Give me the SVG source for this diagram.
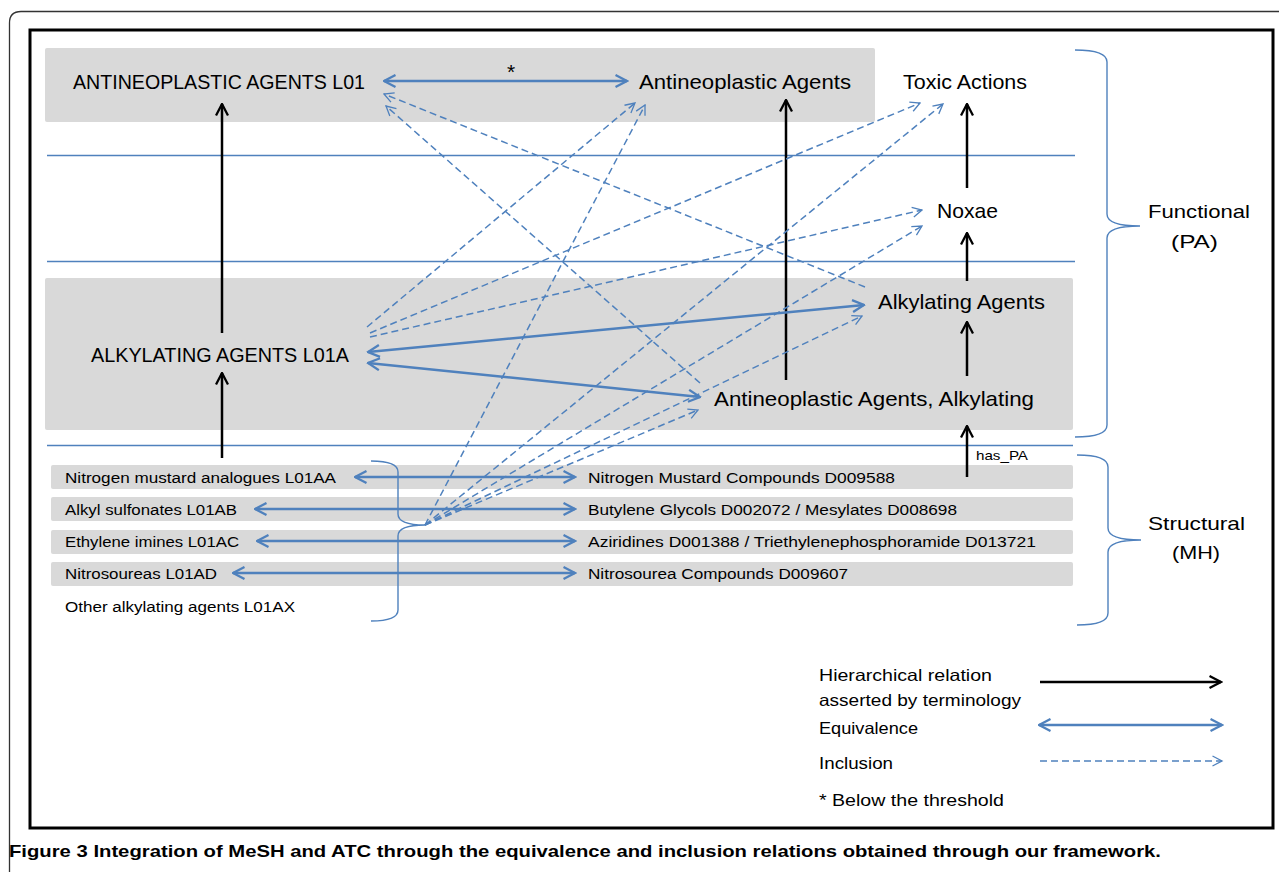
<svg xmlns="http://www.w3.org/2000/svg" width="1279" height="872" viewBox="0 0 1279 872">
<style>
.t{font-family:"Liberation Sans",Arial,sans-serif;fill:#000}
.big{font-size:21px}
.row{font-size:15.5px}
.leg{font-size:16.5px}
.side{font-size:19px}
.band{fill:#d9d9d9}
.sep{stroke:#4f81bd;stroke-width:1.5;fill:none}
.brace{stroke:#4f81bd;stroke-width:1.4;fill:none}
.hier{stroke:#000;stroke-width:2.5;fill:none;marker-end:url(#mkB)}
.eq{stroke:#4f81bd;stroke-width:2.5;fill:none;marker-start:url(#mkE);marker-end:url(#mkE)}
.inc{stroke:#4f81bd;stroke-width:1.5;fill:none;stroke-dasharray:7 4;marker-end:url(#mkI)}
</style>
<defs>
<marker id="mkB" viewBox="0 0 14 14" refX="12.5" refY="7" markerWidth="14" markerHeight="14" markerUnits="userSpaceOnUse" orient="auto"><path d="M1,1 L12.5,7 L1,13" fill="none" stroke="#000" stroke-width="2.3"/></marker>
<marker id="mkE" viewBox="0 0 14 14" refX="12.5" refY="7" markerWidth="14" markerHeight="14" markerUnits="userSpaceOnUse" orient="auto-start-reverse"><path d="M1,1 L12.5,7 L1,13" fill="none" stroke="#4f81bd" stroke-width="2.3"/></marker>
<marker id="mkI" viewBox="0 0 12 12" refX="10.5" refY="6" markerWidth="12" markerHeight="12" markerUnits="userSpaceOnUse" orient="auto"><path d="M1,1 L10.5,6 L1,11" fill="none" stroke="#4f81bd" stroke-width="1.3"/></marker>
</defs>
<rect width="1279" height="872" fill="#fff"/>
<g id="frames">
<path d="M9.5,872 L9.5,23 Q9.5,11.5 21,11.5 L1279,11.5" fill="none" stroke="#333" stroke-width="1.3"/>
<rect x="30" y="30" width="1243" height="798" fill="none" stroke="#000" stroke-width="3"/>
</g>
<g id="bands">
<rect class="band" x="45" y="48" width="830" height="74" rx="2"/>
<rect class="band" x="45" y="278" width="1028" height="152" rx="2"/>
<rect class="band" x="51" y="465" width="1022" height="24" rx="2"/>
<rect class="band" x="51" y="497" width="1022" height="24" rx="2"/>
<rect class="band" x="51" y="530" width="1022" height="24" rx="2"/>
<rect class="band" x="51" y="562" width="1022" height="24" rx="2"/>
<line class="sep" x1="47" y1="155.5" x2="1075" y2="155.5"/>
<line class="sep" x1="47" y1="261.5" x2="1075" y2="261.5"/>
<line class="sep" x1="47" y1="445.5" x2="1073" y2="445.5" stroke-width="1.8"/>
</g>
<g id="braces">
<path class="brace" d="M1075,50 Q1107,50 1107,62 L1107,214 Q1107,226 1140,226 Q1107,226 1107,238 L1107,425 Q1107,437 1075,437"/>
<path class="brace" d="M1077,455 Q1108,455 1108,467 L1108,528 Q1108,540 1141,540 Q1108,540 1108,552 L1108,613 Q1108,625 1077,625"/>
<path class="brace" d="M371,461 Q398,461 398,472 L398,514 Q398,525 425,525 Q398,525 398,536 L398,610 Q398,621 371,621"/>
</g>
<g id="connectors">
<line class="hier" x1="222" y1="333" x2="222" y2="104"/>
<line class="hier" x1="222" y1="458" x2="222" y2="373"/>
<line class="hier" x1="786" y1="380" x2="786" y2="100"/>
<line class="hier" x1="967" y1="188" x2="967" y2="104"/>
<line class="hier" x1="967" y1="281" x2="967" y2="233"/>
<line class="hier" x1="967" y1="376" x2="967" y2="322"/>
<line class="hier" x1="967" y1="477" x2="967" y2="426"/>
<line class="eq" x1="384" y1="81" x2="627" y2="81"/>
<line class="eq" x1="368" y1="352" x2="864" y2="305"/>
<line class="eq" x1="368" y1="363" x2="700" y2="397"/>
<line class="eq" x1="355" y1="477" x2="575" y2="477"/>
<line class="eq" x1="255" y1="509" x2="575" y2="509"/>
<line class="eq" x1="257" y1="541" x2="575" y2="541"/>
<line class="eq" x1="233" y1="573" x2="575" y2="573"/>
<line class="inc" x1="865" y1="287" x2="384" y2="94"/>
<line class="inc" x1="700" y1="383" x2="386" y2="106"/>
<line class="inc" x1="367" y1="327" x2="635" y2="103"/>
<line class="inc" x1="370" y1="333" x2="920" y2="103"/>
<line class="inc" x1="370" y1="337" x2="922" y2="210"/>
<line class="inc" x1="425" y1="525" x2="645" y2="105"/>
<line class="inc" x1="425" y1="525" x2="943" y2="104"/>
<line class="inc" x1="425" y1="525" x2="922" y2="226"/>
<line class="inc" x1="425" y1="525" x2="862" y2="316"/>
<line class="inc" x1="425" y1="525" x2="698" y2="410"/>
</g>
<g id="n-l01"><text class="t big" x="73" y="89" textLength="292" lengthAdjust="spacingAndGlyphs">ANTINEOPLASTIC AGENTS L01</text></g>
<g id="star"><text class="t" x="511" y="79" font-size="21" text-anchor="middle">*</text></g>
<g id="n-antineo"><text class="t big" x="639" y="89" textLength="212" lengthAdjust="spacingAndGlyphs">Antineoplastic Agents</text></g>
<g id="n-toxic"><text class="t big" x="903" y="89" textLength="124" lengthAdjust="spacingAndGlyphs">Toxic Actions</text></g>
<g id="n-noxae"><text class="t big" x="937" y="218" textLength="61" lengthAdjust="spacingAndGlyphs">Noxae</text></g>
<g id="n-alkyl"><text class="t big" x="878" y="309" textLength="167" lengthAdjust="spacingAndGlyphs">Alkylating Agents</text></g>
<g id="n-l01a"><text class="t big" x="91" y="362" textLength="258" lengthAdjust="spacingAndGlyphs">ALKYLATING AGENTS L01A</text></g>
<g id="n-antialk"><text class="t big" x="714" y="406" textLength="320" lengthAdjust="spacingAndGlyphs">Antineoplastic Agents, Alkylating</text></g>
<g id="haspa"><text class="t" x="976" y="460" font-size="13" textLength="52" lengthAdjust="spacingAndGlyphs">has_PA</text></g>
<g id="functional"><text class="t side" x="1148" y="218" textLength="102" lengthAdjust="spacingAndGlyphs">Functional</text><text class="t side" x="1171" y="248" textLength="47" lengthAdjust="spacingAndGlyphs">(PA)</text></g>
<g id="structural"><text class="t side" x="1148" y="530" textLength="97" lengthAdjust="spacingAndGlyphs">Structural</text><text class="t side" x="1172" y="559" textLength="48" lengthAdjust="spacingAndGlyphs">(MH)</text></g>
<g id="r-l01aa"><text class="t row" x="65" y="482.5" textLength="271" lengthAdjust="spacingAndGlyphs">Nitrogen mustard analogues L01AA</text></g>
<g id="r-l01ab"><text class="t row" x="65" y="514.5" textLength="172" lengthAdjust="spacingAndGlyphs">Alkyl sulfonates L01AB</text></g>
<g id="r-l01ac"><text class="t row" x="65" y="547" textLength="174" lengthAdjust="spacingAndGlyphs">Ethylene imines L01AC</text></g>
<g id="r-l01ad"><text class="t row" x="65" y="579" textLength="152" lengthAdjust="spacingAndGlyphs">Nitrosoureas L01AD</text></g>
<g id="r-l01ax"><text class="t row" x="65" y="611.5" textLength="230" lengthAdjust="spacingAndGlyphs">Other alkylating agents L01AX</text></g>
<g id="m-d009588"><text class="t row" x="588" y="482.5" textLength="307" lengthAdjust="spacingAndGlyphs">Nitrogen Mustard Compounds D009588</text></g>
<g id="m-d002072"><text class="t row" x="588" y="514.5" textLength="369" lengthAdjust="spacingAndGlyphs">Butylene Glycols D002072 / Mesylates D008698</text></g>
<g id="m-d001388"><text class="t row" x="588" y="547" textLength="448" lengthAdjust="spacingAndGlyphs">Aziridines D001388 / Triethylenephosphoramide D013721</text></g>
<g id="m-d009607"><text class="t row" x="588" y="579" textLength="260" lengthAdjust="spacingAndGlyphs">Nitrosourea Compounds D009607</text></g>
<g id="legend">
<text class="t leg" x="819" y="681" textLength="173" lengthAdjust="spacingAndGlyphs">Hierarchical  relation</text>
<text class="t leg" x="819" y="706" textLength="202" lengthAdjust="spacingAndGlyphs">asserted by terminology</text>
<text class="t leg" x="819" y="734" textLength="99" lengthAdjust="spacingAndGlyphs">Equivalence</text>
<text class="t leg" x="819" y="769" textLength="74" lengthAdjust="spacingAndGlyphs">Inclusion</text>
<text class="t leg" x="819" y="806" textLength="185" lengthAdjust="spacingAndGlyphs">* Below the threshold</text>
<line class="hier" x1="1040" y1="682" x2="1221" y2="682"/>
<line class="eq" x1="1039" y1="725" x2="1222" y2="725"/>
<line class="inc" x1="1040" y1="761" x2="1222" y2="761"/>
</g>
<g id="caption"><text class="t" x="9" y="857" font-size="17" font-weight="bold" textLength="1152" lengthAdjust="spacingAndGlyphs">Figure 3 Integration of MeSH and ATC through the equivalence and inclusion relations obtained through our framework.</text></g>
</svg>
